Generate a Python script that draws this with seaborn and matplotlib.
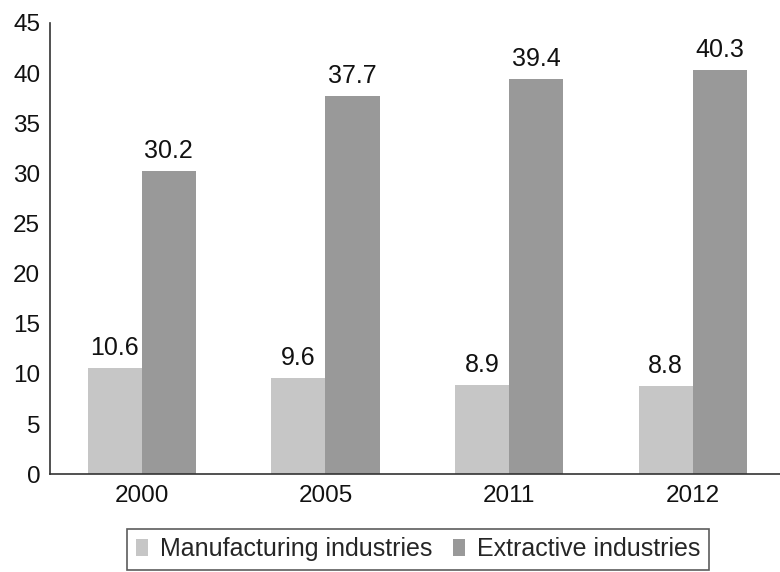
import matplotlib
matplotlib.use("Agg")
import matplotlib.pyplot as plt
import seaborn as sns
import pandas as pd
from matplotlib.patches import Rectangle

years = ["2000", "2005", "2011", "2012"]
manufacturing = [10.6, 9.6, 8.9, 8.8]
extractive = [30.2, 37.7, 39.4, 40.3]
series_names = ["Manufacturing industries", "Extractive industries"]
y_ticks = [0, 5, 10, 15, 20, 25, 30, 35, 40, 45]

df = pd.DataFrame({
    "year": years * 2,
    "value": manufacturing + extractive,
    "series": [series_names[0]] * len(years) + [series_names[1]] * len(years),
})

sns.set_theme(style="white")
plt.rcParams["font.family"] = ["Liberation Sans", "DejaVu Sans"]

colors = ["#c6c6c6", "#999999"]

fig = plt.figure(figsize=(7.8, 5.72), dpi=100)
ax = fig.add_axes([0.064, 0.171, 0.942, 0.789])

sns.barplot(data=df, x="year", y="value", hue="series", order=years,
            hue_order=series_names, palette=colors, width=0.59,
            saturation=1, linewidth=0, ax=ax, legend=False)

for container in ax.containers:
    ax.bar_label(container, fmt="%.1f", padding=6, fontsize=18, color="#111111")

ax.set_xlim(-0.5, 3.5)
ax.set_ylim(0, 45)
ax.set_yticks(y_ticks)
ax.set_xlabel("")
ax.set_ylabel("")
ax.tick_params(axis="both", length=0, labelsize=17.5, colors="#111111")
ax.tick_params(axis="x", pad=8)
ax.tick_params(axis="y", pad=7)
for side in ["top", "right"]:
    ax.spines[side].set_visible(False)
for side in ["left", "bottom"]:
    ax.spines[side].set_color("#333333")
    ax.spines[side].set_linewidth(1.2)

handles = [Rectangle((0, 0), 1, 1, facecolor=c, edgecolor="none") for c in colors]
leg = fig.legend(handles, series_names, loc="lower center",
                 bbox_to_anchor=(0.536, 0.0), ncol=2, fontsize=18,
                 frameon=True, fancybox=False, handlelength=0.48,
                 handleheight=0.64, handletextpad=0.48, columnspacing=0.8,
                 borderpad=0.35, borderaxespad=0.08)
leg.get_frame().set_edgecolor("#333333")
leg.get_frame().set_linewidth(1.2)

fig.savefig("out.png", dpi=100)
